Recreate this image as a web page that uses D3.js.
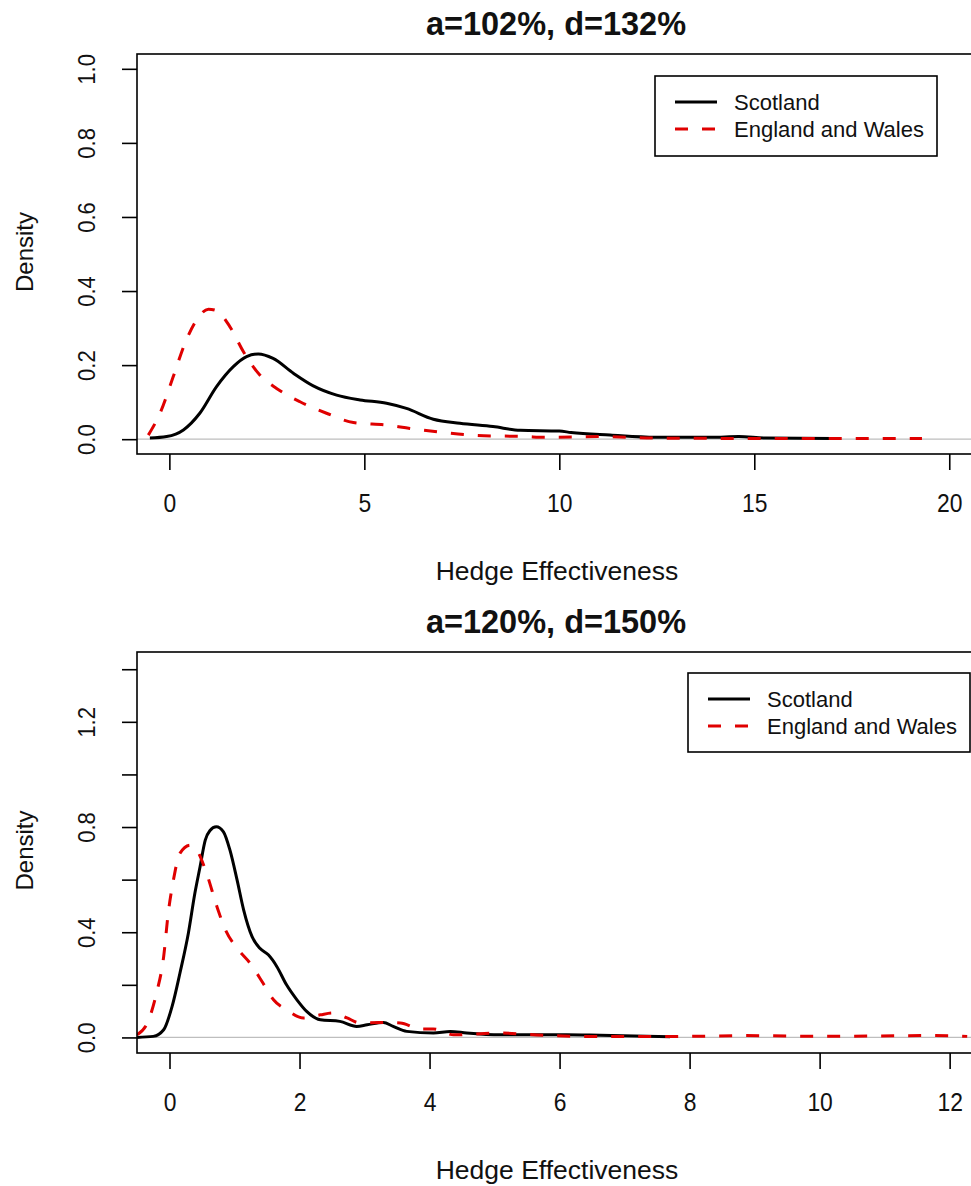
<!DOCTYPE html>
<html lang="en">
<head>
<meta charset="UTF-8" />
<title>Hedge Effectiveness densities</title>
<script src="https://d3js.org/d3.v7.min.js"></script>
<style>
  body { margin: 0; background: #fff; }
  svg { display: block; font-family: "Liberation Sans", Arial, sans-serif; }
</style>
</head>
<body>
<div id="chart"></div>
<script>
// ---- data (x = hedge effectiveness, y = density) ----
const seriesNames = ["Scotland", "England and Wales"];

// panel 1: a=102%, d=132%
const p1ScotX = [-0.5, -0.07, 0.36, 0.78, 1.21, 1.64, 1.98, 2.28, 2.66, 3.18, 3.69, 4.29, 4.89, 5.57, 6.08, 6.77, 7.45, 8.3, 9.0, 10.0, 10.3, 11.3, 12.47, 13.9, 14.6, 15.3, 17.0];
const p1ScotY = [0.003, 0.007, 0.025, 0.07, 0.142, 0.196, 0.223, 0.23, 0.218, 0.178, 0.144, 0.119, 0.106, 0.097, 0.083, 0.054, 0.043, 0.034, 0.024, 0.022, 0.018, 0.011, 0.005, 0.005, 0.007, 0.003, 0.002];
const p1EngX = [-0.54, -0.24, 0.1, 0.4, 0.7, 1.0, 1.21, 1.55, 1.9, 2.32, 2.75, 3.35, 4.03, 4.72, 5.57, 6.17, 7.02, 7.88, 9.16, 9.6, 11.0, 12.45, 15.0, 19.3];
const p1EngY = [0.011, 0.07, 0.169, 0.259, 0.322, 0.351, 0.347, 0.304, 0.236, 0.173, 0.137, 0.101, 0.07, 0.045, 0.038, 0.029, 0.018, 0.01, 0.007, 0.005, 0.007, 0.003, 0.002, 0.002];

// panel 2: a=120%, d=150%
const p2ScotX = [-0.5, -0.25, -0.09, 0.04, 0.16, 0.29, 0.39, 0.47, 0.55, 0.62, 0.72, 0.83, 0.93, 1.04, 1.14, 1.27, 1.39, 1.52, 1.65, 1.8, 1.96, 2.11, 2.32, 2.62, 2.88, 3.04, 3.29, 3.44, 3.65, 4.06, 4.32, 4.57, 5.09, 6.11, 6.62, 7.7];
const p2ScotY = [0, 0.004, 0.029, 0.118, 0.244, 0.396, 0.548, 0.649, 0.75, 0.786, 0.801, 0.782, 0.712, 0.598, 0.485, 0.383, 0.339, 0.314, 0.27, 0.2, 0.143, 0.099, 0.067, 0.061, 0.042, 0.048, 0.057, 0.042, 0.023, 0.017, 0.023, 0.017, 0.01, 0.01, 0.008, 0.003];
const p2EngX = [-0.5, -0.32, -0.2, -0.09, -0.02, 0.06, 0.16, 0.32, 0.42, 0.57, 0.73, 0.86, 1.04, 1.24, 1.44, 1.6, 1.8, 2.06, 2.32, 2.52, 2.73, 2.93, 3.24, 3.55, 3.86, 4.06, 4.37, 5.09, 5.6, 6.37, 8.0, 8.8, 10.0, 11.67, 12.27];
const p2EngY = [0.01, 0.067, 0.168, 0.307, 0.472, 0.598, 0.7, 0.731, 0.712, 0.624, 0.497, 0.409, 0.339, 0.282, 0.206, 0.143, 0.105, 0.074, 0.086, 0.093, 0.074, 0.055, 0.057, 0.055, 0.032, 0.032, 0.01, 0.017, 0.01, 0.004, 0.004, 0.007, 0.004, 0.007, 0.004];

// axis ticks
const p1XTicks = [0, 5, 10, 15, 20];
const p1YTicks = [0, 0.2, 0.4, 0.6, 0.8, 1.0];
const p1YLabels = ["0.0", "0.2", "0.4", "0.6", "0.8", "1.0"];
const p2XTicks = [0, 2, 4, 6, 8, 10, 12];
const p2YTicks = [0, 0.2, 0.4, 0.6, 0.8, 1.0, 1.2, 1.4];
const p2YLabels = ["0.0", "", "0.4", "", "0.8", "", "1.2", ""];

const zip = (xs, ys) => xs.map((x, i) => ({ x, y: ys[i] }));

const panels = [
  {
    title: "a=102%, d=132%",
    top: 54, bottom: 454,
    xDomain: [-0.83, 20.66], yDomain: [-0.04, 1.04],
    xTicks: p1XTicks, yTicks: p1YTicks, yLabels: p1YLabels,
    legend: { x: 655, dy: 22, w: 282, h: 80 },
    series: [zip(p1ScotX, p1ScotY), zip(p1EngX, p1EngY)]
  },
  {
    title: "a=120%, d=150%",
    top: 652, bottom: 1053,
    xDomain: [-0.5, 12.39], yDomain: [-0.0592, 1.4655],
    xTicks: p2XTicks, yTicks: p2YTicks, yLabels: p2YLabels,
    legend: { x: 688, dy: 21, w: 282, h: 79 },
    series: [zip(p2ScotX, p2ScotY), zip(p2EngX, p2EngY)]
  }
];

const W = 971, H = 1186;
const left = 137, right = 975;
const styles = [
  { stroke: "#000", dash: null },
  { stroke: "#e00000", dash: "13 14" }
];

const svg = d3.select("#chart").append("svg")
  .attr("width", W).attr("height", H);

panels.forEach((p, pi) => {
  const x = d3.scaleLinear().domain(p.xDomain).range([left, right]);
  const y = d3.scaleLinear().domain(p.yDomain).range([p.bottom, p.top]);
  const g = svg.append("g");

  const clipId = "clip" + pi;
  svg.append("clipPath").attr("id", clipId)
    .append("rect").attr("x", left).attr("y", p.top)
    .attr("width", right - left).attr("height", p.bottom - p.top);

  // zero line
  g.append("line")
    .attr("x1", left).attr("x2", right)
    .attr("y1", y(0)).attr("y2", y(0))
    .attr("stroke", "#bebebe").attr("stroke-width", 1.2);

  // density curves
  const line = d3.line().x(d => x(d.x)).y(d => y(d.y)).curve(d3.curveMonotoneX);
  p.series.forEach((s, i) => {
    g.append("path")
      .datum(s)
      .attr("clip-path", `url(#${clipId})`)
      .attr("d", line)
      .attr("fill", "none")
      .attr("stroke", styles[i].stroke)
      .attr("stroke-width", 3)
      .attr("stroke-dasharray", styles[i].dash);
  });

  // box
  g.append("rect")
    .attr("x", left).attr("y", p.top)
    .attr("width", right - left).attr("height", p.bottom - p.top)
    .attr("fill", "none").attr("stroke", "#000").attr("stroke-width", 1.6);

  // x axis
  const xAxis = d3.axisBottom(x).tickValues(p.xTicks).tickSize(16).tickPadding(24)
    .tickFormat(d3.format("d"));
  const xg = g.append("g").attr("transform", `translate(0,${p.bottom})`).call(xAxis);
  xg.select(".domain").remove();
  xg.selectAll(".tick line").attr("stroke-width", 1.6);
  xg.selectAll(".tick text")
    .attr("transform", "scale(0.88,1)")
    .attr("font-size", 26).attr("font-family", null).attr("fill", "#111");

  // y axis
  const yAxis = d3.axisLeft(y).tickValues(p.yTicks).tickSize(15)
    .tickFormat((d, i) => p.yLabels[i]);
  const yg = g.append("g").attr("transform", `translate(${left},0)`).call(yAxis);
  yg.select(".domain").remove();
  yg.selectAll(".tick line").attr("stroke-width", 1.6);
  yg.selectAll(".tick text")
    .attr("x", null).attr("dy", null)
    .attr("transform", `translate(${95 - left},0) rotate(-90) scale(0.92,1)`)
    .attr("text-anchor", "middle")
    .attr("font-size", 24).attr("font-family", null).attr("fill", "#111");

  // titles
  g.append("text")
    .attr("x", (left + right) / 2).attr("y", p.top - 19)
    .attr("text-anchor", "middle")
    .attr("font-size", 32.5).attr("font-weight", "bold").attr("fill", "#111")
    .text(p.title);

  g.append("text")
    .attr("x", (left + right) / 2 + 1).attr("y", p.bottom + 126)
    .attr("text-anchor", "middle")
    .attr("font-size", 26.5).attr("fill", "#111")
    .text("Hedge Effectiveness");

  g.append("text")
    .attr("transform", `translate(33,${(p.top + p.bottom) / 2 - 2}) rotate(-90)`)
    .attr("text-anchor", "middle")
    .attr("font-size", 24).attr("fill", "#111")
    .text("Density");

  // legend
  const lg = g.append("g").attr("transform", `translate(${p.legend.x},${p.top + p.legend.dy})`);
  lg.append("rect")
    .attr("width", p.legend.w).attr("height", p.legend.h)
    .attr("fill", "#fff").attr("stroke", "#000").attr("stroke-width", 1.6);
  seriesNames.forEach((name, i) => {
    const ly = 26 + i * 27;
    lg.append("line")
      .attr("x1", 20).attr("x2", 62).attr("y1", ly).attr("y2", ly)
      .attr("stroke", styles[i].stroke).attr("stroke-width", 3)
      .attr("stroke-dasharray", styles[i].dash);
    lg.append("text")
      .attr("x", 79).attr("y", ly).attr("dy", "0.35em")
      .attr("font-size", 22).attr("fill", "#111")
      .text(name);
  });
});
</script>
</body>
</html>
